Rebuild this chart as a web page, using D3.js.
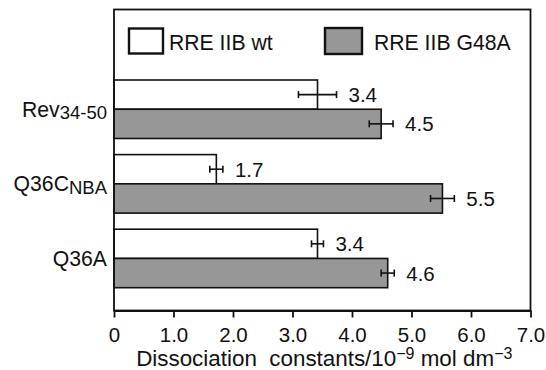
<!DOCTYPE html>
<html>
<head>
<meta charset="utf-8">
<script src="https://cdn.jsdelivr.net/npm/d3@7"></script>
<style>
body { margin: 0; background: #fff; }
svg text { font-family: "Liberation Sans", Arial, Helvetica, sans-serif; fill: #111; }
</style>
</head>
<body>
<div id="chart"></div>
<script>
const FRAME_WIDTH = 546;
const FRAME_HEIGHT = 370;
const MARGINS = {left: 114, right: 15.5, top: 9.5, bottom: 59.5};

const VIS_WIDTH = FRAME_WIDTH - MARGINS.left - MARGINS.right;
const VIS_HEIGHT = FRAME_HEIGHT - MARGINS.top - MARGINS.bottom;

// data
const CATEGORIES = ["Rev34-50", "Q36CNBA", "Q36A"];
const CAT_MAIN = ["Rev", "Q36C", "Q36A"];
const CAT_SUB = ["34-50", "NBA", ""];
const SERIES = ["RRE IIB wt", "RRE IIB G48A"];
const WT_VALUES = [3.42, 1.72, 3.42];
const WT_ERRORS = [0.32, 0.11, 0.1];
const G48A_VALUES = [4.49, 5.52, 4.6];
const G48A_ERRORS = [0.2, 0.2, 0.11];
const VALUE_LABELS_WT = ["3.4", "1.7", "3.4"];
const VALUE_LABELS_G48A = ["4.5", "5.5", "4.6"];
const X_TICKS = [0, 1, 2, 3, 4, 5, 6, 7];
const X_TICK_LABELS = ["0", "1.0", "2.0", "3.0", "4.0", "5.0", "6.0", "7.0"];

const FILLS = {"RRE IIB wt": "#ffffff", "RRE IIB G48A": "#979797"};
const FONT = 20.5;

// build rows for drawing
const ROWS = [];
CATEGORIES.forEach((c, i) => {
	ROWS.push({cat: c, series: SERIES[0], value: WT_VALUES[i], err: WT_ERRORS[i], label: VALUE_LABELS_WT[i]});
	ROWS.push({cat: c, series: SERIES[1], value: G48A_VALUES[i], err: G48A_ERRORS[i], label: VALUE_LABELS_G48A[i]});
});

const SVG = d3.select("#chart")
	.append("svg")
		.attr("width", FRAME_WIDTH)
		.attr("height", FRAME_HEIGHT);

const G = SVG.append("g")
	.attr("transform", "translate(" + MARGINS.left + "," + MARGINS.top + ")");

const X_SCALE = d3.scaleLinear()
	.domain([0, 7])
	.range([0, VIS_WIDTH]);

//category bands
const Y_SCALE = d3.scaleBand()
	.domain(CATEGORIES)
	.range([70.5, 278.2])
	.paddingInner(0.216)
	.paddingOuter(0);

const Y_SUB = d3.scaleBand()
	.domain(SERIES)
	.range([0, Y_SCALE.bandwidth()]);

//bars
G.selectAll(".bar")
	.data(ROWS)
	.enter()
	.append("rect")
		.attr("class", "bar")
		.attr("x", X_SCALE(0))
		.attr("y", (d) => {return Y_SCALE(d.cat) + Y_SUB(d.series);})
		.attr("width", (d) => {return X_SCALE(d.value) - X_SCALE(0);})
		.attr("height", Y_SUB.bandwidth())
		.attr("fill", (d) => {return FILLS[d.series];})
		.attr("stroke", "#111")
		.attr("stroke-width", 1.6);

//error bars
const ERR = G.selectAll(".err")
	.data(ROWS)
	.enter()
	.append("g")
		.attr("class", "err")
		.attr("transform", (d) => {return "translate(0," + (Y_SCALE(d.cat) + Y_SUB(d.series) + Y_SUB.bandwidth() / 2) + ")";});

ERR.append("line")
	.attr("x1", (d) => {return X_SCALE(d.value - d.err);})
	.attr("x2", (d) => {return X_SCALE(d.value + d.err);})
	.attr("y1", 0).attr("y2", 0)
	.attr("stroke", "#111").attr("stroke-width", 1.6);

ERR.selectAll(".cap")
	.data((d) => {return [d.value - d.err, d.value + d.err];})
	.enter()
	.append("line")
		.attr("x1", (v) => {return X_SCALE(v);})
		.attr("x2", (v) => {return X_SCALE(v);})
		.attr("y1", -3.5).attr("y2", 3.5)
		.attr("stroke", "#111").attr("stroke-width", 1.6);

//value labels
ERR.append("text")
	.attr("x", (d) => {return X_SCALE(d.value + d.err) + 12;})
	.attr("y", 7.5)
	.attr("font-size", FONT)
	.text((d) => {return d.label;});

//category labels with subscripts
const CAT_TEXT = G.selectAll(".catlabel")
	.data(CATEGORIES)
	.enter()
	.append("text")
		.attr("class", "catlabel")
		.attr("x", -7)
		.attr("y", (d) => {return Y_SCALE(d) + Y_SCALE.bandwidth() / 2 + 7.5;})
		.attr("text-anchor", "end")
		.attr("font-size", 21.2);

CAT_TEXT.append("tspan").text((d, i) => {return CAT_MAIN[i];});
CAT_TEXT.append("tspan")
	.attr("font-size", 18.5)
	.attr("dy", 2.5)
	.text((d, i) => {return CAT_SUB[i];});

//plot frame
G.append("rect")
	.attr("x", 0).attr("y", 0)
	.attr("width", VIS_WIDTH)
	.attr("height", VIS_HEIGHT)
	.attr("fill", "none")
	.attr("stroke", "#111")
	.attr("stroke-width", 1.8);

//x axis
const X_AXIS = G.append("g")
	.attr("transform", "translate(0," + VIS_HEIGHT + ")")
	.call(d3.axisBottom(X_SCALE)
		.tickValues(X_TICKS)
		.tickFormat((d, i) => {return X_TICK_LABELS[i];})
		.tickSize(7)
		.tickSizeOuter(0)
		.tickPadding(10));

X_AXIS.select(".domain").attr("stroke", "#111").attr("stroke-width", 1.8);
X_AXIS.selectAll(".tick line").attr("stroke", "#111").attr("stroke-width", 1.8);
X_AXIS.selectAll(".tick text")
	.attr("font-size", FONT)
	.attr("font-family", "Liberation Sans, Arial, sans-serif")
	.attr("fill", "#111");

//axis title
const TITLE = G.append("text")
	.attr("x", VIS_WIDTH / 2 + 2)
	.attr("y", VIS_HEIGHT + 55)
	.attr("text-anchor", "middle")
	.attr("font-size", 22.4);
TITLE.append("tspan").text("Dissociation\u00a0 constants/10");
TITLE.append("tspan").attr("font-size", 16).attr("dy", -7).text("\u22129");
TITLE.append("tspan").attr("dy", 7).text(" mol dm");
TITLE.append("tspan").attr("font-size", 16).attr("dy", -7).text("\u22123");

//legend
const LEGEND = [
	{name: SERIES[0], box: [129, 28.5, 34, 25], tx: 169},
	{name: SERIES[1], box: [325, 28, 37, 26], tx: 374}
];
const LEG = SVG.selectAll(".legend")
	.data(LEGEND)
	.enter()
	.append("g")
		.attr("class", "legend");

LEG.append("rect")
	.attr("x", (d) => {return d.box[0];})
	.attr("y", (d) => {return d.box[1];})
	.attr("width", (d) => {return d.box[2];})
	.attr("height", (d) => {return d.box[3];})
	.attr("fill", (d) => {return FILLS[d.name];})
	.attr("stroke", "#111")
	.attr("stroke-width", 2.4);

LEG.append("text")
	.attr("x", (d) => {return d.tx;})
	.attr("y", 49.5)
	.attr("font-size", 21.2)
	.text((d) => {return d.name;});
</script>
</body>
</html>
